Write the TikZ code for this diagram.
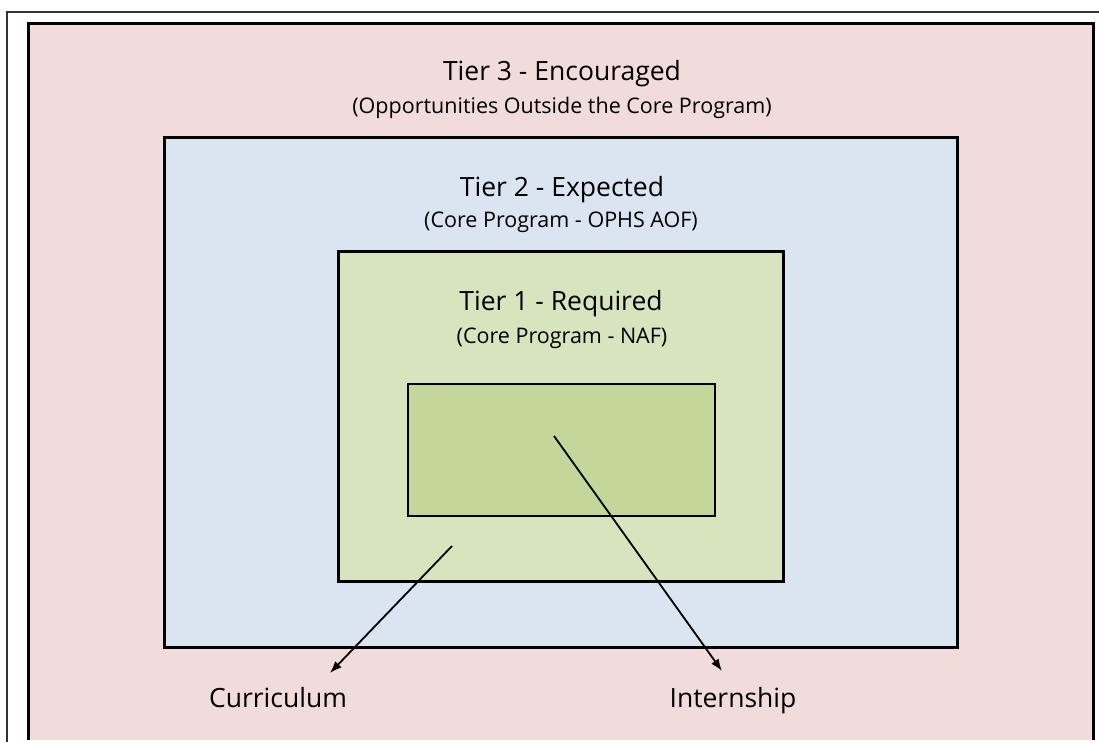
\documentclass[tikz,border=0pt]{standalone}
\usepackage{fontspec}
\setmainfont{Open Sans}
\usepackage{xcolor}
\usepackage{tikz}
\usetikzlibrary{arrows.meta}
\definecolor{tierthree}{RGB}{242,220,219}
\definecolor{tiertwo}{RGB}{219,229,241}
\definecolor{tierone}{RGB}{216,228,189}
\definecolor{tiercore}{RGB}{196,215,155}

\begin{document}
\begin{tikzpicture}[x=1pt,y=-1pt,
  tierbox/.style={draw=black,line width=3pt},
  tiertitle/.style={font=\fontsize{26.5}{30}\selectfont,inner sep=0pt,anchor=base},
  tiersub/.style={font=\fontsize{21.5}{25}\selectfont,inner sep=0pt,anchor=base},
  outcome/.style={font=\fontsize{26.5}{30}\selectfont,inner sep=0pt,anchor=base},
  pointer/.style={-{Latex[length=12pt,width=9pt]},line width=1.8pt}]
\useasboundingbox (0,0) rectangle (1099,742);
\begin{scope}
\clip (0,0) rectangle (1099,739);
\draw[tierbox,fill=tierthree] (28,23) rectangle (1093,760);
\end{scope}
\draw[line width=2pt,color=black!80] (7,742) -- (7,12) -- (1099,12);
\draw[tierbox,fill=tiertwo] (164,137) rectangle (957,647);
\draw[tierbox,fill=tierone] (338,251) rectangle (783,581);
\draw[line width=2pt,fill=tiercore] (408,384) rectangle (715,516);

\node[tiertitle] (t3) at (562,80) {Tier 3 - Encouraged};
\node[tiersub] (t3s) at (562,113) {(Opportunities Outside the Core Program)};
\node[tiertitle] (t2) at (562,196) {Tier 2 - Expected};
\node[tiersub] (t2s) at (561,227) {(Core Program - OPHS AOF)};
\node[tiertitle] (t1) at (561,310) {Tier 1 - Required};
\node[tiersub] (t1s) at (562,343) {(Core Program - NAF)};

\node[outcome] (curriculum) at (278,707) {Curriculum};
\node[outcome] (internship) at (733,707) {Internship};
\coordinate (currfrom) at (452,546);
\coordinate (currto) at (330,673);
\coordinate (internfrom) at (554,436);
\coordinate (internto) at (722,671);
\draw[pointer] (currfrom) -- (currto);
\draw[pointer] (internfrom) -- (internto);
\end{tikzpicture}
\end{document}
